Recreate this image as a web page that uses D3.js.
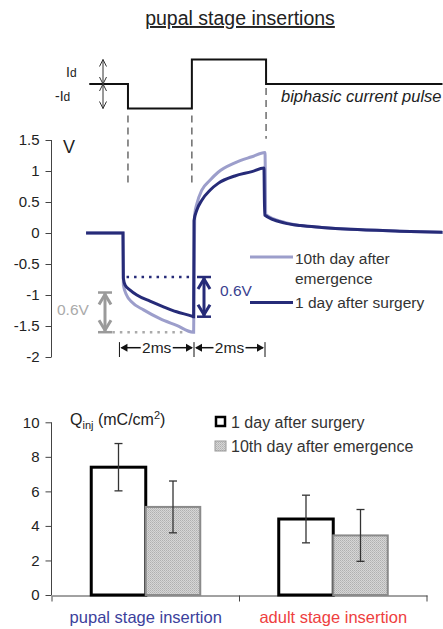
<!DOCTYPE html>
<html lang="en">
<head>
  <title>pupal stage insertions</title>
  <script src="https://d3js.org/d3.v7.min.js" charset="utf-8"></script>
  <style>
    body { margin: 0; background: #fff; }
    svg { display: block; font-family: "Liberation Sans", Arial, sans-serif; }
  </style>
</head>
<body>
<script>
// ---- data ----
// time in ms, 0 = onset of the cathodic phase
var pulseT = [-0.95, 0.14, 0.14, 1.94, 1.94, 4.03, 4.03, 9];
var pulseI = [0, 0, -1, -1, 1, 1, 0, 0];

// 1 day after surgery (V)
var surgeryT = [-1.04, 0, 0.01, 0.06, 0.2, 0.39, 0.76, 1.14, 1.51, 1.94, 1.99, 2.0, 2.08, 2.22, 2.45, 2.68, 3.15, 3.63, 3.97, 3.99, 4.56, 5.0, 5.6, 6.4, 7.8, 9.0];
var surgeryV = [0, 0, -0.73, -0.84, -0.92, -1.0, -1.10, -1.19, -1.27, -1.34, -1.35, 0.20, 0.37, 0.53, 0.69, 0.80, 0.92, 0.99, 1.05, 0.29, 0.16, 0.12, 0.09, 0.06, 0.03, 0.01];

// 10th day after emergence (V)
var emergenceT = [-1.04, 0, 0.01, 0.1, 0.24, 0.58, 1.04, 1.51, 1.97, 1.99, 2.02, 2.08, 2.22, 2.45, 2.68, 3.15, 3.63, 4.0, 4.02, 4.56, 5.0, 5.6, 6.4, 7.8, 9.0];
var emergenceV = [0, 0, -0.84, -1.0, -1.11, -1.24, -1.38, -1.49, -1.60, -1.6, 0.3, 0.47, 0.69, 0.85, 0.98, 1.13, 1.23, 1.30, 0.3, 0.17, 0.12, 0.09, 0.06, 0.03, 0.01];

var voltTicks = [1.5, 1, 0.5, 0, -0.5, -1, -1.5, -2];

// charge injection bars
var stages = ["pupal stage insertion", "adult stage insertion"];
var series = ["1 day after surgery", "10th day after emergence"];
var chargeDay1 = [7.4, 4.4];
var chargeDay10 = [5.1, 3.45];
var errDay1 = [1.37, 1.38];
var errDay10 = [1.5, 1.5];
var chargeTicks = [0, 2, 4, 6, 8, 10];

var width = 443, height = 629;
var navy = "#262b78", lilac = "#9c9ecb", grayArrow = "#9a9a9a";

var svg = d3.select("body").append("svg")
    .attr("width", width)
    .attr("height", height);

var defs = svg.append("defs");
var pat = defs.append("pattern")
    .attr("id", "stipple")
    .attr("width", 2).attr("height", 2)
    .attr("patternUnits", "userSpaceOnUse");
pat.append("rect").attr("width", 2).attr("height", 2).attr("fill", "#d6d6d6");
pat.append("rect").attr("width", 1).attr("height", 1).attr("fill", "#b0b0b0");
pat.append("rect").attr("x", 1).attr("y", 1).attr("width", 1).attr("height", 1).attr("fill", "#bdbdbd");

// title
svg.append("text")
    .attr("x", 240).attr("y", 25)
    .attr("text-anchor", "middle")
    .attr("font-size", 19.5)
    .attr("fill", "#222")
    .attr("text-decoration", "underline")
    .text("pupal stage insertions");

// ---- scales ----
var tX = d3.scaleLinear().domain([-1, 9]).range([87.5, 442.5]);
var pY = d3.scaleLinear().domain([-1, 1]).range([108.5, 59.5]);
var vY = d3.scaleLinear().domain([-2, 1.5]).range([357, 140]);

// chevron arrow head, tip at (x,y), dir +1 points down, -1 points up
function chevron(g, x, y, dir, w, h, color, sw) {
  g.append("path")
    .attr("d", "M" + (x - w) + "," + (y - dir * h) + "L" + x + "," + y + "L" + (x + w) + "," + (y - dir * h))
    .attr("fill", "none")
    .attr("stroke", color)
    .attr("stroke-width", sw);
}

// ---- current pulse ----
var pulse = svg.append("g");
pulse.append("path")
    .datum(d3.range(pulseT.length))
    .attr("fill", "none")
    .attr("stroke", "#111")
    .attr("stroke-width", 2)
    .attr("d", d3.line().x(i => tX(pulseT[i])).y(i => pY(pulseI[i])));

// +-Id arrows
var ax = 103;
pulse.append("line").attr("x1", ax).attr("x2", ax).attr("y1", pY(1)).attr("y2", pY(-1))
    .attr("stroke", "#333").attr("stroke-width", 1);
chevron(pulse, ax, pY(1), -1, 3.5, 7, "#333", 1);
chevron(pulse, ax, pY(0), 1, 3.5, 7, "#333", 1);
chevron(pulse, ax, pY(0), -1, 3.5, 7, "#333", 1);
chevron(pulse, ax, pY(-1), 1, 3.5, 7, "#333", 1);

var id1 = pulse.append("text").attr("x", 66).attr("y", 77).attr("fill", "#222");
id1.append("tspan").attr("font-size", 14).text("I");
id1.append("tspan").attr("font-size", 12).text("d");
var id2 = pulse.append("text").attr("x", 55).attr("y", 101).attr("fill", "#222");
id2.append("tspan").attr("font-size", 14).text("-I");
id2.append("tspan").attr("font-size", 12).text("d");

pulse.append("text")
    .attr("x", 281).attr("y", 102)
    .attr("font-size", 16.5)
    .attr("font-style", "italic")
    .attr("fill", "#222")
    .text("biphasic current pulse");

// dashed guides at the pulse edges
var guides = [
  {t: pulseT[1], y1: pY(-1) + 7, y2: vY(0.8)},
  {t: pulseT[3], y1: pY(-1) + 7, y2: vY(0.8)},
  {t: pulseT[5], y1: pY(0) + 4, y2: vY(1.52)}
];
svg.append("g").selectAll("line")
    .data(guides)
    .join("line")
    .attr("x1", d => tX(d.t)).attr("x2", d => tX(d.t))
    .attr("y1", d => d.y1).attr("y2", d => d.y2)
    .attr("stroke", "#555")
    .attr("stroke-width", 1.3)
    .attr("stroke-dasharray", "7,5");

// ---- voltage transient ----
var vAxis = svg.append("g")
    .attr("transform", "translate(51.5,0)")
    .call(d3.axisLeft(vY).tickValues(voltTicks).tickSize(6).tickPadding(6).tickFormat(d => String(d)));
vAxis.select(".domain").attr("stroke", "#444").attr("d", "M-0," + vY(1.5) + "V" + vY(-2));
vAxis.selectAll(".tick line").attr("stroke", "#444");
vAxis.selectAll(".tick text").attr("font-size", 15).attr("fill", "#222").attr("font-family", "Liberation Sans, Arial, sans-serif");

svg.append("text").attr("x", 63).attr("y", 153).attr("font-size", 18).attr("fill", "#222").text("V");

var traceLine = function(T, V) {
  return d3.line().curve(d3.curveMonotoneX).x(i => tX(T[i])).y(i => vY(V[i]))(d3.range(T.length));
};

// reference levels
svg.append("line")
    .attr("x1", tX(0.1)).attr("x2", tX(1.97))
    .attr("y1", vY(-0.71)).attr("y2", vY(-0.71))
    .attr("stroke", navy).attr("stroke-width", 2.5).attr("stroke-dasharray", "2.5,5");
svg.append("line")
    .attr("x1", tX(-0.3)).attr("x2", tX(1.7))
    .attr("y1", vY(-1.6)).attr("y2", vY(-1.6))
    .attr("stroke", "#aaa").attr("stroke-width", 2.5).attr("stroke-dasharray", "2.5,5");

svg.append("path")
    .attr("d", traceLine(emergenceT, emergenceV))
    .attr("fill", "none").attr("stroke", lilac).attr("stroke-width", 3);
svg.append("path")
    .attr("d", traceLine(surgeryT, surgeryV))
    .attr("fill", "none").attr("stroke", navy).attr("stroke-width", 3);

// 0.6V dimension arrows
function dimArrow(x, v1, v2, color) {
  var g = svg.append("g");
  g.append("line").attr("x1", x).attr("x2", x).attr("y1", vY(v1)).attr("y2", vY(v2))
      .attr("stroke", color).attr("stroke-width", 3);
  [v1, v2].forEach(function(v) {
    g.append("line").attr("x1", x - 7).attr("x2", x + 7).attr("y1", vY(v)).attr("y2", vY(v))
        .attr("stroke", color).attr("stroke-width", 2.5);
  });
  chevron(g, x, vY(v1) + 2, -1, 6, 10, color, 3);
  chevron(g, x, vY(v2) - 2, 1, 6, 10, color, 3);
}
dimArrow(204, -0.71, -1.35, navy);
dimArrow(105, -0.96, -1.6, grayArrow);
svg.append("text").attr("x", 220).attr("y", 296).attr("font-size", 15.5).attr("fill", "#3a3f90").text("0.6V");
svg.append("text").attr("x", 57).attr("y", 315).attr("font-size", 15.5).attr("fill", "#aaa").text("0.6V");

// 2ms timing marks
var marks = [-0.1, 2.0, 4.0];
var tm = svg.append("g");
tm.selectAll("line.bar")
    .data(marks)
    .join("line")
    .attr("class", "bar")
    .attr("x1", d => tX(d)).attr("x2", d => tX(d))
    .attr("y1", vY(-1.76)).attr("y2", vY(-2.0))
    .attr("stroke", "#111").attr("stroke-width", 1);
[[marks[0], marks[1]], [marks[1], marks[2]]].forEach(function(p) {
  var a = tX(p[0]), b = tX(p[1]), y = vY(-1.85), m = (a + b) / 2;
  tm.append("line").attr("x1", a + 2).attr("x2", m - 16).attr("y1", y).attr("y2", y).attr("stroke", "#111").attr("stroke-width", 1.5);
  tm.append("line").attr("x1", m + 16).attr("x2", b - 2).attr("y1", y).attr("y2", y).attr("stroke", "#111").attr("stroke-width", 1.5);
  tm.append("path").attr("d", "M" + (a + 1) + "," + y + "l7,-4v8z").attr("fill", "#111");
  tm.append("path").attr("d", "M" + (b - 1) + "," + y + "l-7,-4v8z").attr("fill", "#111");
  tm.append("text").attr("x", m).attr("y", y + 5.5).attr("text-anchor", "middle")
      .attr("font-size", 15.5).attr("fill", "#222").text("2ms");
});

// trace legend
var lg = svg.append("g");
lg.append("line").attr("x1", 250).attr("x2", 293).attr("y1", 257).attr("y2", 257).attr("stroke", lilac).attr("stroke-width", 3);
lg.append("line").attr("x1", 250).attr("x2", 293).attr("y1", 302.5).attr("y2", 302.5).attr("stroke", navy).attr("stroke-width", 3);
lg.append("text").attr("x", 295).attr("y", 263.5).attr("font-size", 15.5).attr("fill", "#333").text("10th day after");
lg.append("text").attr("x", 295).attr("y", 283.5).attr("font-size", 15.5).attr("fill", "#333").text("emergence");
lg.append("text").attr("x", 295).attr("y", 308).attr("font-size", 15.5).attr("fill", "#333").text("1 day after surgery");

// ---- charge injection bar chart ----
var bX = d3.scaleBand().domain(stages).range([52, 427]).paddingInner(0).paddingOuter(0);
var bSub = d3.scaleBand().domain(series).range([0, bX.bandwidth()]).paddingInner(0).paddingOuter(0.72);
var bY = d3.scaleLinear().domain([0, 10]).range([595, 422.3]);

var yAx = svg.append("g")
    .attr("transform", "translate(51.5,0)")
    .call(d3.axisLeft(bY).tickValues(chargeTicks).tickSize(6).tickPadding(6));
yAx.select(".domain").attr("stroke", "#444").attr("d", "M-0," + bY(10) + "V" + bY(0));
yAx.selectAll(".tick line").attr("stroke", "#444");
yAx.selectAll(".tick text").attr("font-size", 15).attr("fill", "#222").attr("font-family", "Liberation Sans, Arial, sans-serif");

var xAx = svg.append("g")
    .attr("transform", "translate(0," + (bY(0) + 0.5) + ")")
    .call(d3.axisBottom(bX).tickValues([]).tickSizeOuter(0));
xAx.select(".domain").attr("stroke", "#444");
xAx.selectAll(".sep")
    .data([52, 52 + bX.step(), 427])
    .join("line")
    .attr("x1", d => d).attr("x2", d => d)
    .attr("y1", 0).attr("y2", 6)
    .attr("stroke", "#444");

var rows = [];
stages.forEach(function(s, i) {
  rows.push({stage: s, ser: series[0], v: chargeDay1[i], e: errDay1[i]});
  rows.push({stage: s, ser: series[1], v: chargeDay10[i], e: errDay10[i]});
});

var bars = svg.append("g");
bars.selectAll("rect")
    .data(rows)
    .join("rect")
    .attr("x", d => bX(d.stage) + bSub(d.ser))
    .attr("y", d => bY(d.v))
    .attr("width", bSub.bandwidth())
    .attr("height", d => bY(0) - bY(d.v))
    .attr("fill", d => d.ser === series[0] ? "#fff" : "url(#stipple)")
    .attr("stroke", d => d.ser === series[0] ? "#000" : "#8a8a8a")
    .attr("stroke-width", d => d.ser === series[0] ? 3 : 2);

var eb = bars.selectAll("g.err")
    .data(rows)
    .join("g")
    .attr("class", "err")
    .attr("transform", d => "translate(" + (bX(d.stage) + bSub(d.ser) + bSub.bandwidth() / 2) + ",0)");
eb.append("line").attr("y1", d => bY(d.v + d.e)).attr("y2", d => bY(d.v - d.e))
    .attr("stroke", "#333").attr("stroke-width", 1.3);
eb.append("line").attr("x1", -4).attr("x2", 4).attr("y1", d => bY(d.v + d.e)).attr("y2", d => bY(d.v + d.e))
    .attr("stroke", "#333").attr("stroke-width", 1.3);
eb.append("line").attr("x1", -4).attr("x2", 4).attr("y1", d => bY(d.v - d.e)).attr("y2", d => bY(d.v - d.e))
    .attr("stroke", "#333").attr("stroke-width", 1.3);

// Q_inj label
var q = svg.append("text").attr("x", 70).attr("y", 425).attr("font-size", 16).attr("fill", "#222");
q.append("tspan").text("Q");
q.append("tspan").attr("font-size", 11).attr("dy", 4).text("inj");
q.append("tspan").attr("dy", -4).text(" (mC/cm");
q.append("tspan").attr("font-size", 11).attr("dy", -6).text("2");
q.append("tspan").attr("dy", 6).text(")");

// bar legend
var bl = svg.append("g");
bl.append("rect").attr("x", 216).attr("y", 417).attr("width", 9).attr("height", 9)
    .attr("fill", "#fff").attr("stroke", "#000").attr("stroke-width", 2.5);
bl.append("rect").attr("x", 215).attr("y", 441).attr("width", 11).attr("height", 10)
    .attr("fill", "url(#stipple)").attr("stroke", "#999").attr("stroke-width", 1);
bl.append("text").attr("x", 231).attr("y", 427.5).attr("font-size", 16).attr("fill", "#333").text(series[0]);
bl.append("text").attr("x", 231).attr("y", 451.5).attr("font-size", 16).attr("fill", "#333").text(series[1]);

// stage labels
svg.append("g").selectAll("text")
    .data(stages)
    .join("text")
    .attr("x", d => bX(d) + bX.bandwidth() / 2)
    .attr("y", 623)
    .attr("text-anchor", "middle")
    .attr("font-size", 16.5)
    .attr("fill", (d, i) => i === 0 ? "#3c3f9c" : "#ee4040")
    .text(d => d);
</script>
</body>
</html>
